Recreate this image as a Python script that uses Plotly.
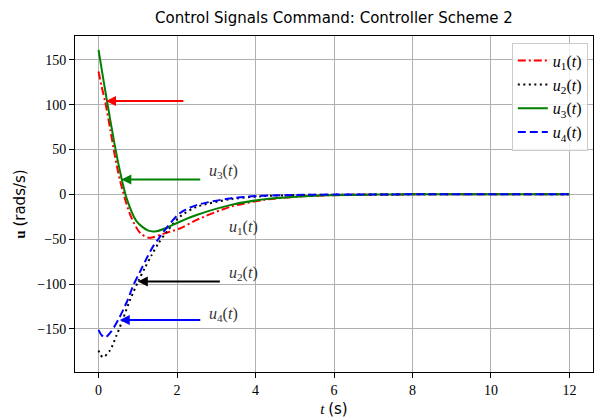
import plotly.graph_objects as go

# ---- data ----
t_u1 = [0, 0.08, 0.17, 0.3, 0.42, 0.55, 0.8, 1.06, 1.3, 1.64, 2.07, 2.5, 3.35, 4.2, 5.04, 5.9, 7, 8, 10, 12]
u1 = [137, 120, 103, 72, 42, 15, -22, -43, -48.5, -44, -38, -28.5, -14, -6.3, -2.6, -1.0, -0.3, 0, 0, 0]

t_u2 = [0, 0.05, 0.12, 0.29, 0.46, 0.63, 0.8, 1.01, 1.18, 1.35, 1.52, 1.75, 2.07, 2.5, 3.35, 4.2, 5.04, 6, 8, 10, 12]
u2 = [-174, -179, -181.5, -174, -157, -138, -118, -97, -82, -68, -55, -41, -25, -14, -5.5, -2, -0.8, -0.3, 0, 0, 0]

t_u3 = [0, 0.1, 0.2, 0.4, 0.55, 0.72, 0.97, 1.27, 1.48, 1.75, 2.07, 2.5, 3.35, 4.2, 5.04, 5.9, 7, 8, 10, 12]
u3 = [161, 134, 108, 58, 25, -5, -30, -40.5, -41, -37, -30.5, -23, -12, -5.6, -2.6, -1.1, -0.3, 0, 0, 0]

t_u4 = [0, 0.08, 0.17, 0.32, 0.5, 0.72, 0.89, 1.06, 1.23, 1.39, 1.52, 1.65, 2.07, 2.5, 3.35, 4.2, 5.04, 6, 8, 10, 12]
u4 = [-151, -157, -159.5, -153, -140, -120, -101, -86, -71, -58, -50, -42, -21, -12, -4.5, -1.5, -0.7, -0.2, 0, 0, 0]

series_names = ["<i>u</i><sub>1</sub>(<i>t</i>)", "<i>u</i><sub>2</sub>(<i>t</i>)",
                "<i>u</i><sub>3</sub>(<i>t</i>)", "<i>u</i><sub>4</sub>(<i>t</i>)"]
colors = ["#ff0000", "#000000", "#008000", "#0000ff"]
dashes = ["8px,3px,2px,3px", "2px,3.5px", "solid", "8px,4px"]

# arrows
arrow_head_t = [0.19, 1.0, 0.58, 0.54]
arrow_tail_t = [2.2, 3.13, 2.63, 2.63]
arrow_u = [104, -97, 16.5, -140]
arrow_colors = ["#ff0000", "#000000", "#008000", "#0000ff"]

label_texts = ["<i>u</i><sub>3</sub>(<i>t</i>)", "<i>u</i><sub>1</sub>(<i>t</i>)",
               "<i>u</i><sub>2</sub>(<i>t</i>)", "<i>u</i><sub>4</sub>(<i>t</i>)"]
label_t = [3.19, 3.7, 3.7, 3.19]
label_u = [25, -37, -88, -134]

xs = [t_u1, t_u2, t_u3, t_u4]
ys = [u1, u2, u3, u4]

fig = go.Figure()
for x, y, n, c, d in zip(xs, ys, series_names, colors, dashes):
    fig.add_trace(go.Scatter(x=x, y=y, mode="lines", name=n,
                             line=dict(color=c, width=2, dash=d, shape="spline", smoothing=0.8)))

for ht, tt, u, c in zip(arrow_head_t, arrow_tail_t, arrow_u, arrow_colors):
    fig.add_annotation(x=ht, y=u, ax=tt, ay=u, xref="x", yref="y", axref="x", ayref="y",
                       text="", showarrow=True, arrowhead=2, arrowsize=1, arrowwidth=2,
                       arrowcolor=c)

for txt, t, u in zip(label_texts, label_t, label_u):
    fig.add_annotation(x=t, y=u, xref="x", yref="y", text=txt, showarrow=False,
                       font=dict(family="Liberation Serif", size=16, color="#333333"))

serif = "Liberation Serif"
fig.update_layout(
    width=595, height=419,
    margin=dict(l=75, r=2, t=36, b=47),
    plot_bgcolor="white", paper_bgcolor="white",
    title=dict(text="Control Signals Command: Controller Scheme 2",
               x=0.5 * (593 + 75) / 595, xanchor="center",
               y=1 - 18 / 419, yanchor="middle",
               font=dict(family="DejaVu Sans", size=15, color="black")),
    legend=dict(x=0.99, xanchor="right", y=0.98, yanchor="top",
                bgcolor="rgba(255,255,255,0.8)", bordercolor="#cccccc", borderwidth=1,
                font=dict(family=serif, size=16, color="black"),
                tracegroupgap=0),
    showlegend=True,
)
fig.update_xaxes(range=[-0.6, 12.6], tickvals=[0, 2, 4, 6, 8, 10, 12],
                 showgrid=True, gridcolor="#b0b0b0", gridwidth=1, zeroline=False,
                 showline=True, linecolor="black", linewidth=1, mirror=True,
                 ticks="outside", ticklen=5, tickcolor="black",
                 tickfont=dict(family=serif, size=14, color="black"),
                 title=dict(text="<i>t</i> <span style='font-family:DejaVu Sans'>(s)</span>",
                            font=dict(family=serif, size=15, color="black"), standoff=6))
fig.update_yaxes(range=[-198, 176.5], tickvals=[-150, -100, -50, 0, 50, 100, 150],
                 showgrid=True, gridcolor="#b0b0b0", gridwidth=1, zeroline=False,
                 showline=True, linecolor="black", linewidth=1, mirror=True,
                 ticks="outside", ticklen=5, tickcolor="black",
                 tickfont=dict(family=serif, size=14, color="black"),
                 title=dict(text="<b>u</b> <span style='font-family:DejaVu Sans'>(rads/s)</span>",
                            font=dict(family=serif, size=15, color="black"), standoff=8))

fig.write_html("out.html")
